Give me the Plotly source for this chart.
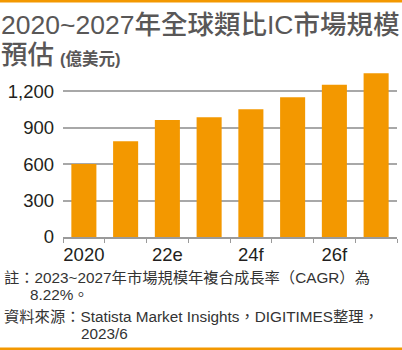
import plotly.graph_objects as go

categories = ["2020", "2021", "2022e", "2023e", "2024f", "2025f", "2026f", "2027f"]
tick_labels = ["2020", "", "22e", "", "24f", "", "26f", ""]
values = [602, 788, 964, 986, 1052, 1151, 1253, 1349]
y_ticks = [0, 300, 600, 900, 1200]
y_tick_labels = ["0", "300", "600", "900", "1,200"]

W, H = 402, 350
L, R, T, B = 63, 5, 67, 113
PW, PH = W - L - R, H - T - B

def px(x):
    return (x - L) / PW

def py(y):
    return (H - B - y) / PH

ORANGE = "#f39800"
FONT = "Liberation Sans, Noto Sans CJK TC, sans-serif"

fig = go.Figure(go.Bar(x=categories, y=values, marker=dict(color=ORANGE, line=dict(width=0)),
                       hoverinfo="skip"))

fig.update_layout(
    width=W, height=H,
    margin=dict(l=L, r=R, t=T, b=B),
    paper_bgcolor="white", plot_bgcolor="white",
    bargap=0.4,
    showlegend=False,
    font=dict(family=FONT, color="#231f20"),
)
fig.update_xaxes(
    type="category", tickvals=categories, ticktext=tick_labels, tickangle=0,
    tickson="boundaries", ticks="outside", ticklen=4, tickwidth=1.2, tickcolor="#9a9a9a",
    showline=True, linecolor="#9a9a9a", linewidth=1.5, showgrid=False,
    tickfont=dict(size=18.5, color="#231f20", family=FONT),
    range=[-0.5, 7.5],
)
fig.update_yaxes(
    range=[0, 1400], tickvals=y_ticks, ticktext=y_tick_labels,
    showgrid=True, gridcolor="#a8a8a8", gridwidth=1.5, zeroline=False, showline=False,
    ticks="", ticklabelstandoff=8,
    tickfont=dict(size=18.5, color="#231f20", family=FONT),
)

ann = []
def text(x, y, s, size, color, xanchor="left", weight=None):
    f = dict(size=size, color=color, family=FONT)
    if weight:
        f["weight"] = weight
    ann.append(dict(xref="paper", yref="paper", x=px(x), y=py(y), text=s, showarrow=False,
                    xanchor=xanchor, yanchor="middle", font=f, align="left"))

TITLE = "#595757"
text(-1, 25, "2020~2027年全球類比IC市場規模", 26.5, TITLE, weight=500)
text(-1, 55, "預估", 26.5, TITLE, weight=500)
text(58, 59, "(億美元)", 16.5, TITLE, weight="bold")

NOTE = "#333333"
text(2, 277, "註：2023~2027年市場規模年複合成長率（CAGR）為", 15.3, NOTE)
text(28, 294, "8.22%。", 15.3, NOTE)
text(2, 316, "資料來源：Statista Market Insights，DIGITIMES整理，", 15.3, NOTE)
text(79, 333, "2023/6", 15.3, NOTE)
fig.update_layout(annotations=ann)

fig.update_layout(shapes=[
    dict(type="rect", xref="paper", yref="paper", x0=px(0), x1=px(W), y0=py(2.5), y1=py(0),
         fillcolor=ORANGE, line=dict(width=0), layer="above"),
    dict(type="rect", xref="paper", yref="paper", x0=px(0), x1=px(W), y0=py(350), y1=py(347.5),
         fillcolor=ORANGE, line=dict(width=0), layer="above"),
])

fig.write_html("out.html", config={"displayModeBar": False})
